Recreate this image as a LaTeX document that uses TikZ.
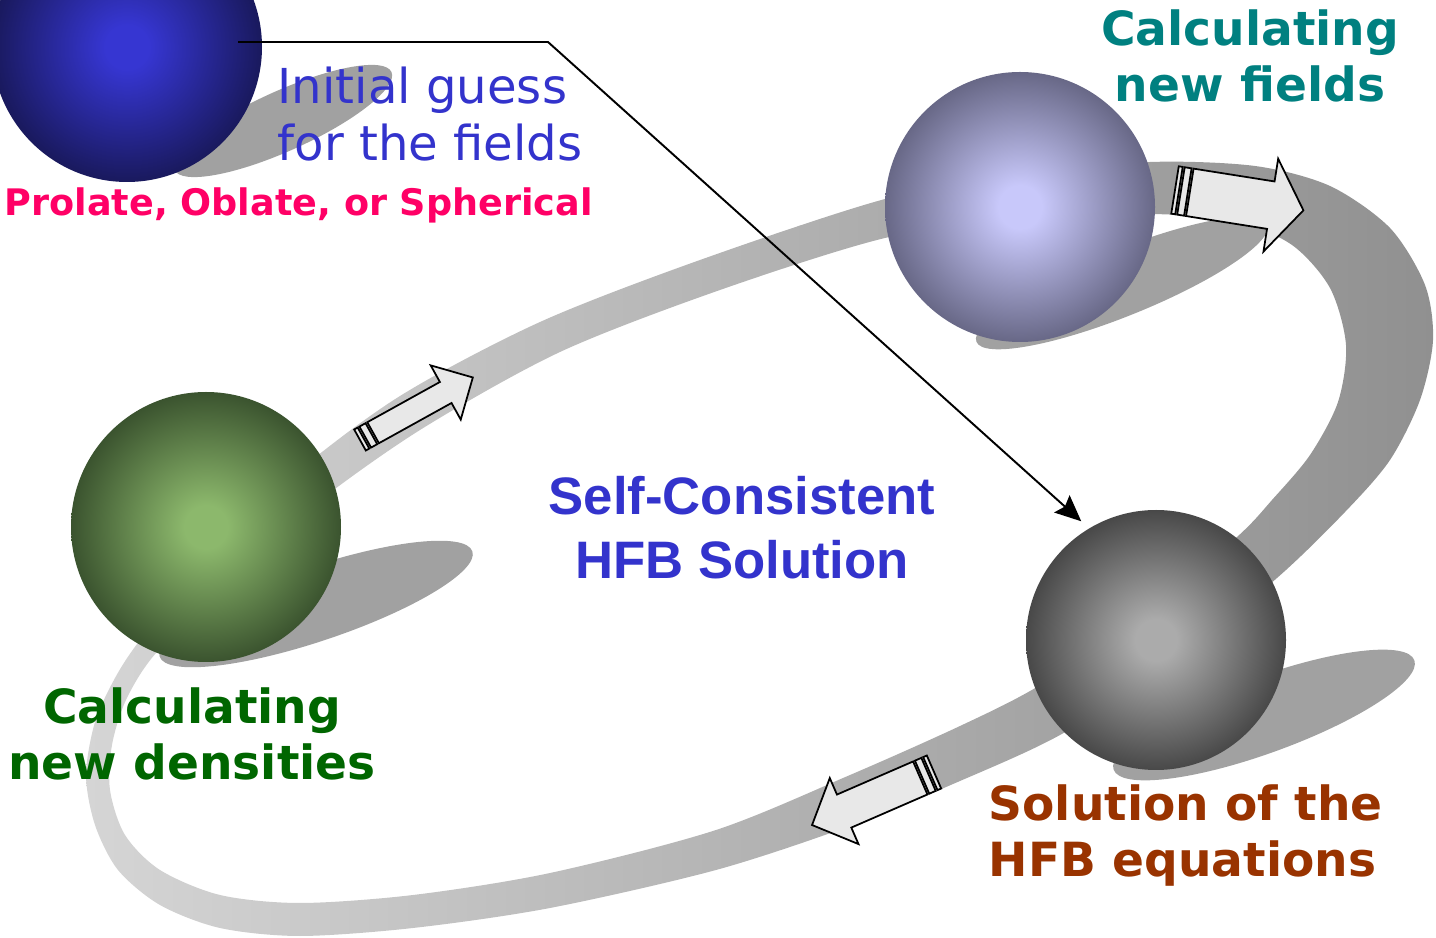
\documentclass[tikz,border=0pt]{standalone}
\usepackage{fontspec}
\newfontfamily\verdana{DejaVu Sans}
\newfontfamily\arialfont{Liberation Sans}
\usetikzlibrary{arrows.meta, positioning, calc}

\definecolor{guessblue}{HTML}{3333CC}
\definecolor{fieldteal}{HTML}{008080}
\definecolor{shapepink}{HTML}{FF0066}
\definecolor{densgreen}{HTML}{006600}
\definecolor{solvebrown}{HTML}{993300}
\definecolor{guesshi}{HTML}{3636D2}
\definecolor{guesslo}{HTML}{15154C}
\definecolor{fieldhi}{HTML}{C8C8FA}
\definecolor{fieldlo}{HTML}{5A5A76}
\definecolor{denshi}{HTML}{8CB86C}
\definecolor{denslo}{HTML}{2F4526}
\definecolor{solvehi}{HTML}{ABABAB}
\definecolor{solvelo}{HTML}{3A3A3A}
\colorlet{orbin}{white}
\colorlet{orbout}{black}

\pgfdeclareradialshading[orbin,orbout]{orbglow}{\pgfpoint{0bp}{0bp}}{color(0bp)=(orbin); color(4bp)=(orbin); color(16bp)=(orbin!50!orbout); color(28bp)=(orbout); color(50bp)=(orbout)}
\pgfdeclarehorizontalshading{ringfade}{100bp}{color(0bp)=(black!3); color(100bp)=(black!57)}

% hollow block arrow: tail, angle, length, shaft half width, head half width, head length
\newcommand{\hollowarrow}[6]{%
  \begin{scope}[shift={(#1)}, rotate=#2]
    \draw[arrowbody] (0,-#4) rectangle (4,#4);
    \draw[arrowbody] (6,-#4) rectangle (13,#4);
    \draw[arrowbody] (15,-#4) -- ({#3-#6},-#4) -- ({#3-#6},-#5) -- (#3,0) -- ({#3-#6},#5) -- ({#3-#6},#4) -- (15,#4) -- cycle;
  \end{scope}}

\begin{document}
\begin{tikzpicture}[
    x=0.1mm, y=-0.1mm,
    orb/.style 2 args={circle, inner sep=0pt, shade, shading=orbglow, /utils/exec={\colorlet{orbin}{#1}\colorlet{orbout}{#2}}},
    shadowblob/.style={fill=black!37},
    arrowbody/.style={draw=black, fill=black!9, line width=0.5pt},
    feed/.style={-{Stealth[length=2.6mm, width=2.3mm, inset=0.4mm]}, line width=0.55pt},
    boldlabel/.style={font=\verdana\bfseries\fontsize{13.4pt}{15.9pt}\selectfont, inner sep=0pt, align=center}
]
    \useasboundingbox (0,0) rectangle (1436,938);
    \clip (0,0) rectangle (1436,938);

    % shadows of the balls
    \fill[shadowblob, rotate around={24.3:(283,121)}] (283,121) ellipse [x radius=11.9mm, y radius=3mm];
    \fill[shadowblob, rotate around={18.6:(316,604)}] (316,604) ellipse [x radius=16.5mm, y radius=3.7mm];
    \fill[shadowblob, rotate around={22:(1122,283)}] (1122,283) ellipse [x radius=15.7mm, y radius=3.3mm];
    \fill[shadowblob, rotate around={20:(1264,715)}] (1264,715) ellipse [x radius=16mm, y radius=3.8mm];

    % the loop
    \shade[shading=ringfade, even odd rule]
      plot[smooth cycle] coordinates {(86,775) (95,722) (115,678) (140,640) (200,565) (290,478) (400,396) (540,322) (700,260) (885,199) (1020,174) (1150,162) (1255,166) (1330,186) (1390,228) (1425,285) (1433,340) (1420,400) (1390,460) (1345,512) (1277,578) (1170,665) (1060,735) (960,781) (850,826) (716,870) (550,908) (413,928) (300,936) (220,928) (160,905) (118,870) (95,825)}
      plot[smooth cycle] coordinates {(110,790) (112,745) (126,700) (156,653) (230,580) (310,508) (420,430) (560,352) (720,290) (885,238) (1020,218) (1150,214) (1235,221) (1292,245) (1330,288) (1346,345) (1338,402) (1310,455) (1272,500) (1237,537) (1140,620) (1037,687) (960,726) (850,775) (716,830) (550,873) (413,895) (300,903) (220,895) (160,870) (125,835)};

    % balls
    \node[orb={guesshi}{guesslo}, minimum size=27mm] (guess) at (127,47) {};
    \node[orb={fieldhi}{fieldlo}, minimum size=27mm] (newfields) at (1020,207) {};
    \node[orb={denshi}{denslo}, minimum size=27mm] (densities) at (206,527) {};
    \node[orb={solvehi}{solvelo}, minimum size=26mm] (solve) at (1156,640) {};

    % direction arrows on the loop
    \hollowarrow{360,440}{29}{129}{12}{31}{31}
    \hollowarrow{1175,190}{-9}{130}{24}{47}{33}
    \hollowarrow{934,772}{203.5}{133}{18}{36}{35}

    % start of the iteration
    \coordinate (feedstart) at (238,42);
    \coordinate (feedbend) at (548,42);
    \draw[feed, shorten >=1mm] (feedstart) -- (feedbend) -- (solve.121);

    % labels
    \node[boldlabel, text=fieldteal, anchor=north] (fieldlbl) at (1250,9) {Calculating\\new fields};
    \node[font=\verdana\fontsize{13.7pt}{16.2pt}\selectfont, text=guessblue, inner sep=0pt, align=left, anchor=north west] (guesslbl) at (277,66) {Initial guess\\for the fields};
    \node[font=\verdana\bfseries\fontsize{10.4pt}{12pt}\selectfont, text=shapepink, inner sep=0pt, anchor=base west] (shapelbl) at (4,216) {Prolate, Oblate, or Spherical};
    \node[font=\arialfont\bfseries\fontsize{15pt}{18.2pt}\selectfont, text=guessblue, inner sep=0pt, align=center, anchor=north] (hfblbl) at (742,476) {Self-Consistent\\HFB Solution};
    \node[boldlabel, text=solvebrown, align=left, anchor=north west] (solvelbl) at (988,784) {Solution of the\\HFB equations};
    \node[boldlabel, text=densgreen, below=2.4mm of densities, xshift=-1.4mm] (denslbl) {Calculating\\new densities};
\end{tikzpicture}
\end{document}
